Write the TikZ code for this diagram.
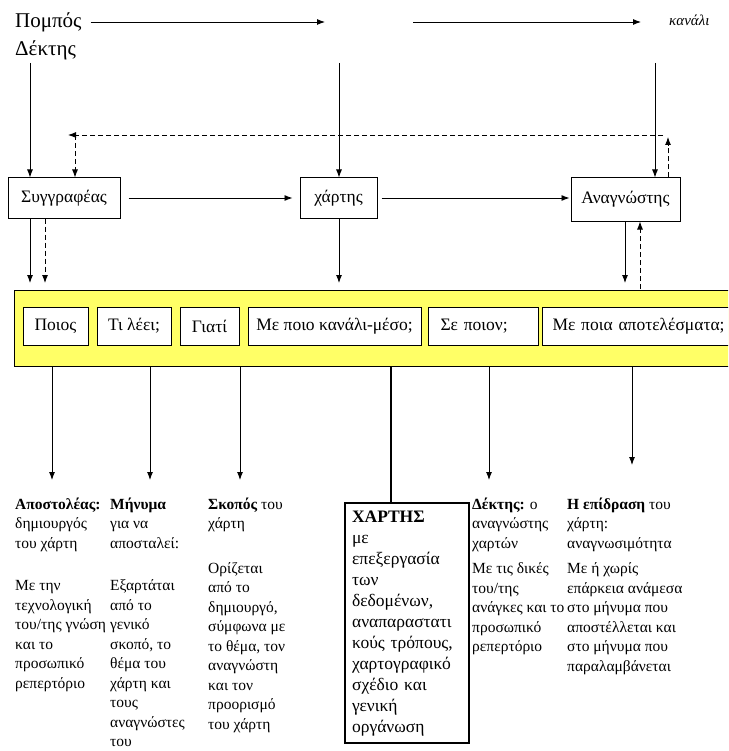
\documentclass[tikz,border=0pt]{standalone}
\usepackage{fontspec}
\setmainfont{Liberation Serif}
\usetikzlibrary{arrows.meta,positioning}
\definecolor{bandyellow}{RGB}{255,255,102}

\tikzset{
  arr/.style={-{Latex[length=8pt,width=6pt]},line width=0.9pt},
  dasharr/.style={arr,dash pattern=on 5pt off 3pt},
  lbl/.style={draw,line width=1pt,fill=white,minimum height=40pt,inner sep=0pt,font=\fontsize{17.5}{19}\selectfont},
  qbox/.style={draw,line width=1pt,fill=white,minimum height=38pt,inner ysep=0pt,inner xsep=0pt,font=\fontsize{17.5}{19}\selectfont},
  colt/.style={anchor=north west,inner sep=0pt,align=left,font=\fontsize{15.5}{19.5}\selectfont},
}

\begin{document}
\begin{tikzpicture}[x=1pt,y=1pt,yscale=-1]
\useasboundingbox (0,0) rectangle (728,751);
\clip (0,0) rectangle (728,751);

% Text Node
\node[anchor=base west,inner sep=0pt,font=\fontsize{21}{22}\selectfont] (pompos) at (15,28) {Πομπός};
% Text Node
\node[anchor=base west,inner sep=0pt,font=\fontsize{21}{22}\selectfont] (dektis) at (15,56) {Δέκτης};
% Text Node
\node[anchor=base west,inner sep=0pt,font=\fontsize{15}{17}\selectfont\itshape] (kanali) at (669,26) {κανάλι};

%Shape: Rectangle
\node[lbl,minimum width=112pt] (syg) at (64,198) {Συγγραφέας};
%Shape: Rectangle
\node[lbl,minimum width=77pt] (xartis) at (338.5,198) {χάρτης};
%Shape: Rectangle
\node[lbl,minimum width=109pt,minimum height=43pt] (anag) at (625.5,199.5) {Αναγνώστης};

%Shape: Rectangle (yellow band)
\node[draw,fill=bandyellow,line width=1pt,anchor=north west,minimum width=766pt,minimum height=76pt,inner sep=0pt] (band) at (14,290) {};
\node[qbox,minimum width=65pt] (poios) at (55.5,326) {Ποιος};
\node[qbox,minimum width=74pt] (tilei) at (134,326) {Τι λέει;};
\node[qbox,minimum width=59pt] (giati) at (209.5,326) {Γιατί};
\node[qbox,minimum width=173pt] (meso) at (334.5,326) {Με ποιο κανάλι-μέσο;};
\node[qbox,anchor=west,inner xsep=12pt,text width=86pt,align=left] (sepoion) at (428,326) {Σε ποιον;};
\node[qbox,anchor=west,inner xsep=10pt,text width=200pt,align=left] (apotel) at (542,326) {Με ποια αποτελέσματα;};

% free ends
\coordinate (mid1) at (325,22);
\coordinate (mid2) at (413,22);
\coordinate (dn1) at (30,63);
\coordinate (dn2) at (339,63);
\coordinate (dn3) at (655,63);
\coordinate (fb1) at (668,137);
\coordinate (fb2) at (663,135);
\coordinate (fb3) at (68,135);
\coordinate (fb4) at (75,135);
\coordinate (s1) at (30,283);
\coordinate (s2) at (45,283);
\coordinate (s3) at (339,283);
\coordinate (s4) at (625,283);
\coordinate (u1) at (640,289);
\coordinate (a1) at (52,480);
\coordinate (a2) at (150,480);
\coordinate (a3) at (240,480);
\coordinate (a5) at (489,480);
\coordinate (a6) at (632,465);
\coordinate (k1) at (391,440);

%Straight Lines
\draw[arr,shorten <=9pt] (pompos.east |- mid1) -- (mid1);
\draw[arr] (mid2) -- ([xshift=-28pt]mid2 -| kanali.west);
\draw[arr] (dn1) -- (dn1 |- syg.north);
\draw[arr] (dn2) -- (dn2 |- xartis.north);
\draw[arr] (dn3) -- (dn3 |- anag.north);
\draw[arr,shorten <=8pt,shorten >=7pt] (syg.east) -- (xartis.west);
\draw[arr,shorten <=4pt,shorten >=1pt] (xartis.east) -- (anag.west |- xartis.east);

%Dashed Lines
\draw[dasharr] (fb1 |- anag.north) -- (fb1);
\draw[dasharr] (fb2) -- (fb3);
\draw[dasharr] (fb4) -- (fb4 |- syg.north);

%Straight Lines
\draw[arr] (s1 |- syg.south) -- (s1);
\draw[dasharr] (s2 |- syg.south) -- (s2);
\draw[arr] (s3 |- xartis.south) -- (s3);
\draw[arr] (s4 |- anag.south) -- (s4);
\draw[dasharr] (u1) -- (u1 |- anag.south);

%Shape: Rectangle (map box)
\node[draw,line width=2.2pt,anchor=north west,minimum width=124pt,minimum height=240pt,text width=110pt,inner xsep=7pt,inner ysep=0pt,align=left,font=\fontsize{17.5}{21}\selectfont] (xbox) at (344,502)
  {\textbf{ΧΑΡΤΗΣ}\\με\\επεξεργασία\\των\\δεδομένων,\\αναπαραστατι\\κούς τρόπους,\\χαρτογραφικό\\σχέδιο και\\γενική\\οργάνωση};

%Straight Lines
\draw[arr] (a1 |- band.south) -- (a1);
\draw[arr] (a2 |- band.south) -- (a2);
\draw[arr] (a3 |- band.south) -- (a3);
\draw[arr] (a5 |- band.south) -- (a5);
\draw[arr] (a6 |- band.south) -- (a6);
\draw[line width=2.2pt] (k1 |- band.south) -- (k1 |- xbox.north);

% Text Node
\node[colt] (apost) at (15,495.5) {\strut\textbf{Αποστολέας:}\\δημιουργός\\του χάρτη\\[23pt]Με την\\τεχνολογική\\του/της γνώση\\και το\\προσωπικό\\ρεπερτόριο};
% Text Node
\node[colt] (minyma) at (110,495.5) {\strut\textbf{Μήνυμα}\\για να\\αποσταλεί:\\[23pt]Εξαρτάται\\από το\\γενικό\\σκοπό, το\\θέμα του\\χάρτη και\\τους\\αναγνώστες\\του};
% Text Node
\node[colt] (skopos) at (208,495.5) {\strut\textbf{Σκοπός} του\\χάρτη\\[25pt]Ορίζεται\\από το\\δημιουργό,\\σύμφωνα με\\το θέμα, τον\\αναγνώστη\\και τον\\προορισμό\\του χάρτη};
% Text Node
\node[colt] (dektis2) at (472,495.5) {\strut\textbf{Δέκτης:} ο\\αναγνώστης\\χαρτών\\[6pt]Με τις δικές\\του/της\\ανάγκες και το\\προσωπικό\\ρεπερτόριο};
% Text Node
\node[colt] (epidr) at (567,495.5) {\strut\textbf{Η επίδραση} του\\χάρτη:\\αναγνωσιμότητα\\[6pt]Με ή χωρίς\\επάρκεια ανάμεσα\\στο μήνυμα που\\αποστέλλεται και\\στο μήνυμα που\\παραλαμβάνεται};

\end{tikzpicture}
\end{document}
